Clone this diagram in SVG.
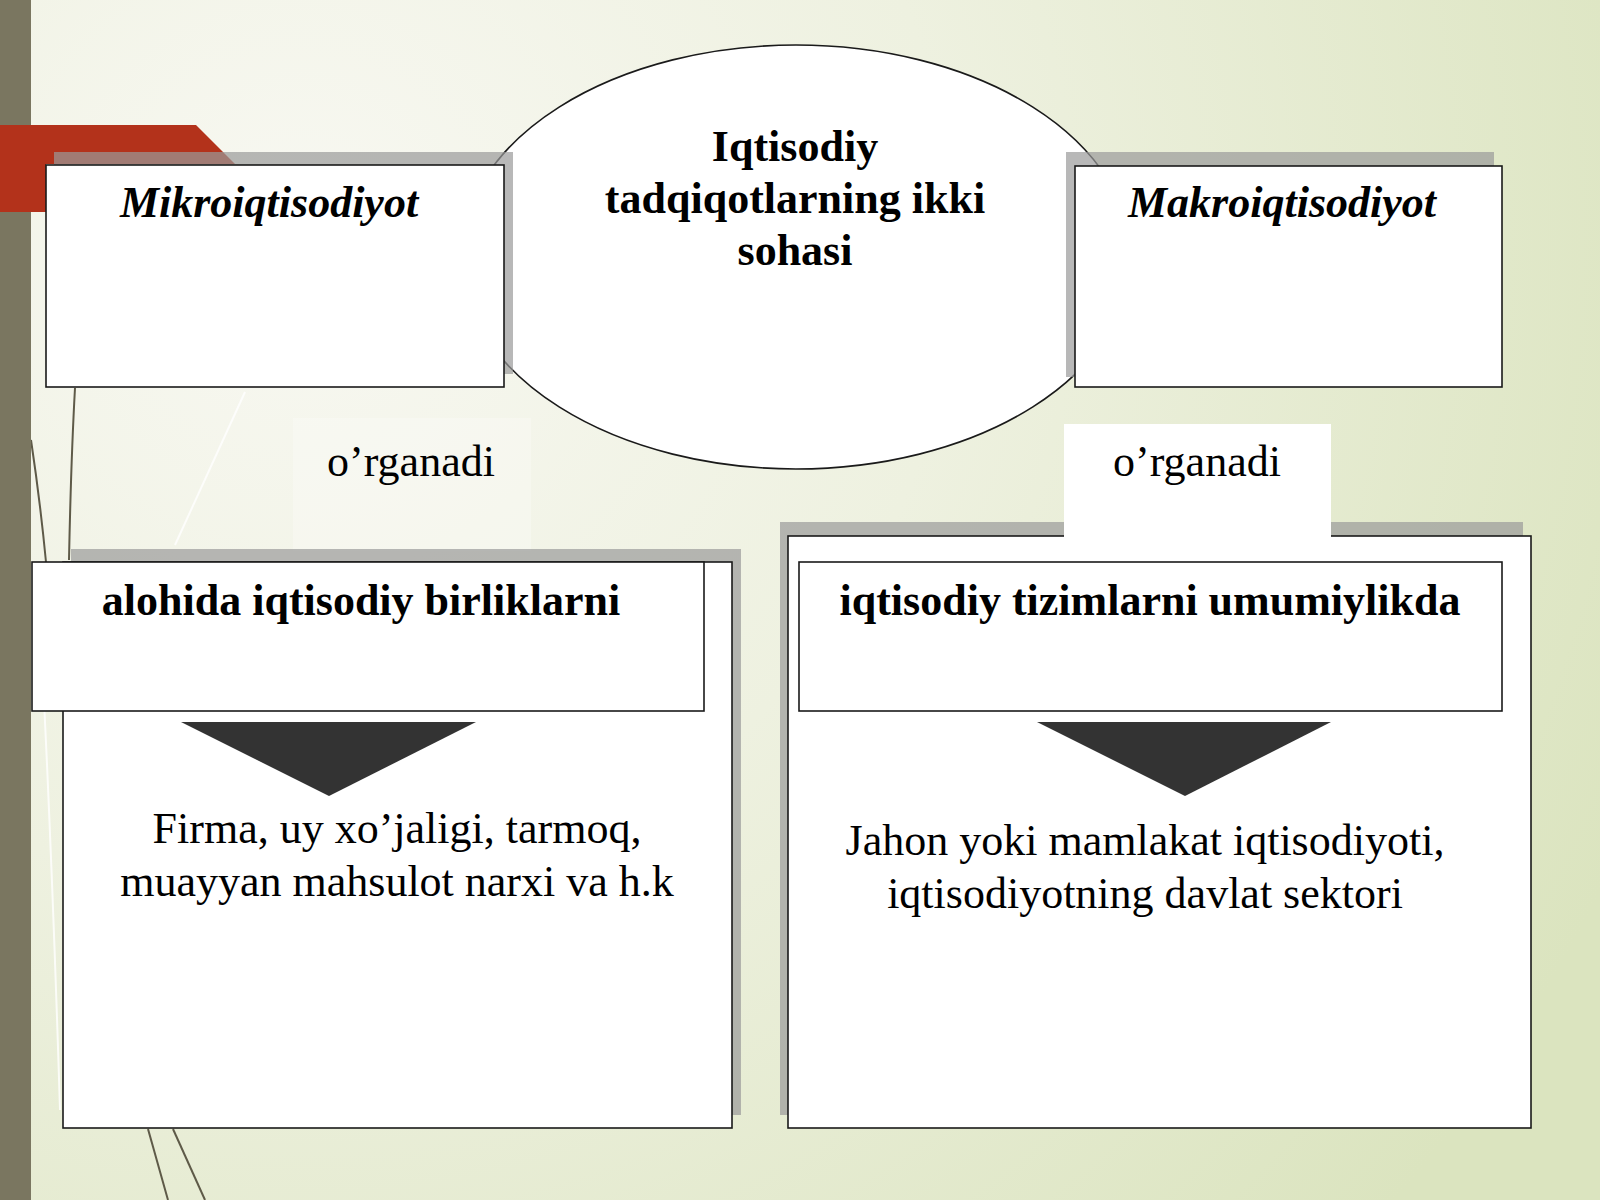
<svg xmlns="http://www.w3.org/2000/svg" width="1600" height="1200" viewBox="0 0 1600 1200">
<defs>
<radialGradient id="bg" cx="300" cy="250" r="1450" gradientUnits="userSpaceOnUse">
<stop offset="0" stop-color="#f8f8f2"/>
<stop offset="0.45" stop-color="#eef1e0"/>
<stop offset="1" stop-color="#dbe4bf"/>
</radialGradient>
<style>
.box{fill:#ffffff;stroke:#1a1a1a;stroke-width:1.6}
.shadow{fill:#9a9a9a;opacity:0.7}
.tb{font-family:"Liberation Serif",serif;font-weight:bold;font-size:44px;fill:#000;text-anchor:middle}
.ti{font-family:"Liberation Serif",serif;font-weight:bold;font-style:italic;font-size:44px;fill:#000;text-anchor:middle}
.tr{font-family:"Liberation Serif",serif;font-size:44px;fill:#000;text-anchor:middle}
.arrow{fill:#333333}
.deco{fill:none;stroke:#5e5a48;stroke-width:2}
.decol{fill:none;stroke:#ffffff;stroke-width:2;opacity:0.8}
</style>
</defs>
<rect x="0" y="0" width="1600" height="1200" fill="url(#bg)"/>
<g id="background-decor">
<path class="decol" d="M245 392 L175 545"/>
<path class="decol" d="M40 620 Q52 850 60 1110"/>
<path class="deco" d="M75 388 Q71 460 69 560"/>
<path class="deco" d="M31 440 Q40 500 46 562"/>
<path class="deco" d="M148 1129 L168 1200" stroke-width="4"/>
<path class="deco" d="M173 1129 L205 1200" stroke-width="4"/>
<rect x="0" y="0" width="31" height="1200" fill="#7a7660"/>
<polygon points="0,125 196,125 235,164 46,164 46,212 0,212" fill="#b3321b"/>
</g>
<g id="node-ellipse">
<ellipse cx="796" cy="257" rx="335" ry="212" fill="#ffffff" stroke="#1a1a1a" stroke-width="1.6"/>
<text class="tb" x="795" y="161">Iqtisodiy</text>
<text class="tb" x="795" y="213">tadqiqotlarning ikki</text>
<text class="tb" x="795" y="265">sohasi</text>
</g>
<g id="node-mikro">
<rect class="shadow" x="54" y="152" width="459" height="222"/>
<rect class="box" x="46" y="165" width="458" height="222"/>
<text class="ti" x="269" y="217">Mikroiqtisodiyot</text>
</g>
<g id="node-makro">
<rect class="shadow" x="1066" y="152" width="428" height="225"/>
<rect class="box" x="1075" y="166" width="427" height="221"/>
<text class="ti" x="1282" y="217">Makroiqtisodiyot</text>
</g>
<g id="label-left">
<rect x="293" y="418" width="238" height="133" fill="#ffffff" opacity="0.25"/>
<text class="tr" x="411" y="476">o’rganadi</text>
</g>
<g id="node-left-outer">
<rect class="shadow" x="71" y="549" width="670" height="566"/>
<rect class="box" x="63" y="562" width="669" height="566"/>
</g>
<g id="node-right-outer">
<rect class="shadow" x="780" y="522" width="743" height="593"/>
<rect class="box" x="788" y="536" width="743" height="592"/>
</g>
<g id="label-right">
<rect x="1064" y="424" width="267" height="114" fill="#ffffff"/>
<text class="tr" x="1197" y="476">o’rganadi</text>
</g>
<g id="node-left-inner">
<rect class="box" x="32" y="562" width="672" height="149"/>
<text class="tb" x="361" y="615">alohida iqtisodiy birliklarni</text>
</g>
<g id="node-right-inner">
<rect class="box" x="799" y="562" width="703" height="149"/>
<text class="tb" x="1150" y="615">iqtisodiy tizimlarni umumiylikda</text>
</g>
<g id="connectors">
<polygon class="arrow" points="181,722 476,722 329,796"/>
<polygon class="arrow" points="1037,722 1331,722 1185,796"/>
</g>
<g id="node-left-detail">
<text class="tr" x="397" y="843">Firma, uy xo’jaligi, tarmoq,</text>
<text class="tr" x="397" y="896">muayyan mahsulot narxi va h.k</text>
</g>
<g id="node-right-detail">
<text class="tr" x="1145" y="855">Jahon yoki mamlakat iqtisodiyoti,</text>
<text class="tr" x="1145" y="908">iqtisodiyotning davlat sektori</text>
</g>
</svg>
